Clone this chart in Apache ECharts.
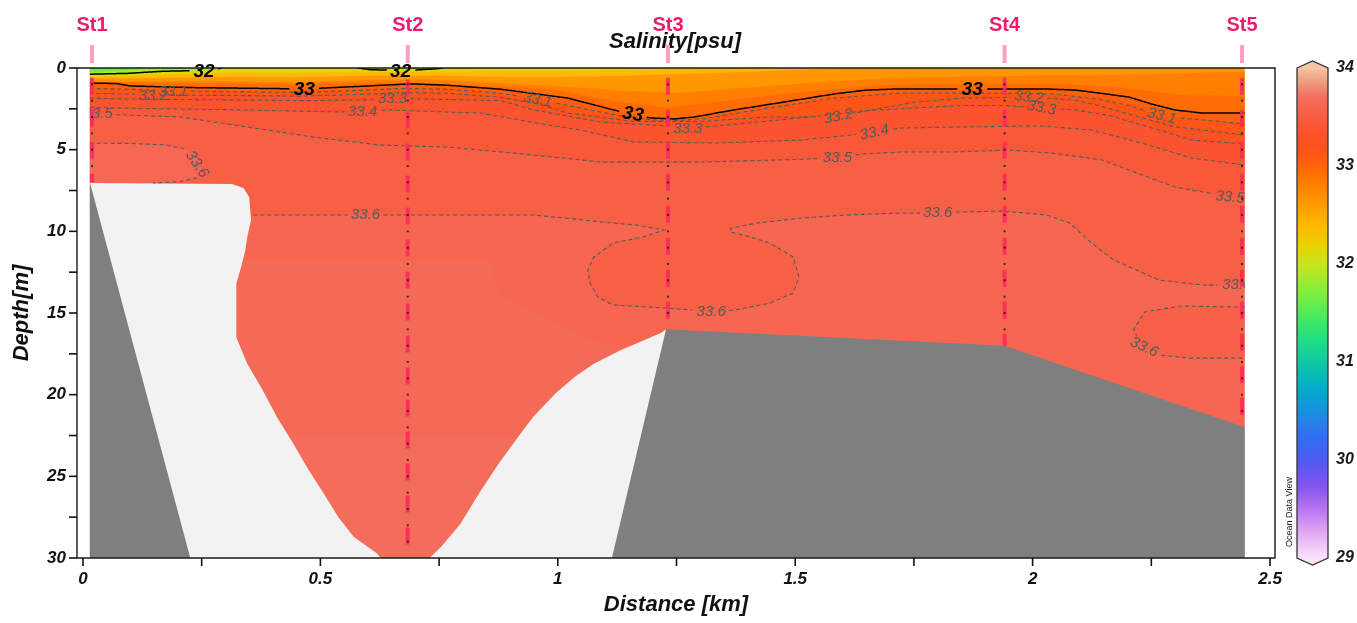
<!DOCTYPE html>
<html>
<head>
<meta charset="utf-8">
<script src="https://cdn.jsdelivr.net/npm/echarts@6/dist/echarts.min.js"></script>
<style>
html,body{margin:0;padding:0;background:#fff}
#chart{width:1357px;height:623px}
</style>
</head>
<body>
<div id="chart"></div>
<script>
// ---------- Section data: distance [km], depth [m] ----------
const stations      = ['St1', 'St2', 'St3', 'St4', 'St5'];
const stationKm     = [0.019, 0.684, 1.232, 1.941, 2.441];
const stationTop    = [0.6, 0.7, 0.6, 0.6, 0.6];
const stationBottom = [7.0, 30.0, 16.0, 17.0, 22.0];
const sampleDepths  = [1,2,3,4,5,6,7,8,9,10,11,12,13,14,15,16,17,18,19,20,21,22,23,24,25,26,27,28,29];

const distTicks   = [0, 0.25, 0.5, 0.75, 1, 1.25, 1.5, 1.75, 2, 2.25, 2.5];
const distLabels  = [0, 0.5, 1, 1.5, 2, 2.5];
const depthTicks  = [0, 2.5, 5, 7.5, 10, 12.5, 15, 17.5, 20, 22.5, 25, 27.5, 30];
const depthLabels = [0, 5, 10, 15, 20, 25, 30];
const salinityTicks = [29, 30, 31, 32, 33, 34];

// section extent along track
const xL = 0.014, xR = 2.447;

// bathymetry (sea floor) and the area without data
const bottomLeft  = [[0.014,6.95],[0.226,30],[0.014,30]];
const bottomRight = [[1.114,30],[1.228,16.0],[1.941,17.0],[2.447,22.0],[2.447,30]];
const noDataLeft  = [[0.014,7.04],[0.314,7.1],[0.338,7.35],[0.350,7.9],[0.354,9.3],[0.346,10.35],[0.342,11.15],
  [0.333,12.2],[0.323,13.2],[0.323,16.5],[0.346,18.1],[0.378,19.7],[0.409,21.4],[0.443,23.0],[0.475,24.6],
  [0.506,26.0],[0.538,27.5],[0.570,28.7],[0.618,29.7],[0.627,30],[0.014,30]];
const noDataRight = [[0.730,30],[0.755,29.3],[0.795,27.9],[0.835,26.0],[0.876,24.2],[0.916,22.6],[0.947,21.4],
  [0.996,19.9],[1.036,18.9],[1.076,18.1],[1.131,17.3],[1.179,16.7],[1.219,16.2],[1.228,16.0],[1.228,30]];

// isohalines (drawn)
const iso32      = [[0.014,0.38],[0.093,0.33],[0.169,0.2],[0.255,0.15],[0.28,0.08],[0.293,0.0]];
const iso32Patch = [[0.578,0.0],[0.605,0.1],[0.64,0.13],[0.669,0.13],[0.70,0.12],[0.74,0.06],[0.759,0.0]];
const iso33  = [[0.014,0.92],[0.07,0.95],[0.10,1.1],[0.232,1.2],[0.466,1.28],[0.60,1.1],[0.669,1.0],[0.70,0.98],
  [0.77,1.06],[0.88,1.3],[0.958,1.6],[1.021,1.84],[1.118,2.57],[1.158,2.85],[1.196,3.06],[1.245,3.12],[1.287,3.0],
  [1.371,2.57],[1.477,2.08],[1.582,1.59],[1.65,1.35],[1.709,1.29],[1.873,1.29],[2.034,1.29],[2.09,1.35],[2.139,1.53],
  [2.203,1.78],[2.25,2.2],[2.30,2.57],[2.357,2.76],[2.447,2.76]];
const iso331 = [[0.014,1.25],[0.10,1.3],[0.19,1.4],[0.30,1.45],[0.46,1.5],[0.60,1.35],[0.67,1.25],[0.77,1.3],
  [0.88,1.55],[0.958,1.9],[1.021,2.3],[1.127,2.9],[1.196,3.17],[1.245,3.22],[1.302,3.12],[1.443,2.45],[1.582,1.84],
  [1.724,1.53],[1.85,1.53],[1.95,1.55],[2.05,1.6],[2.146,1.95],[2.203,2.3],[2.272,2.92],[2.321,3.08],[2.447,3.43]];
const iso332 = [[0.014,1.55],[0.10,1.6],[0.148,1.65],[0.30,1.68],[0.46,1.72],[0.60,1.6],[0.67,1.5],[0.77,1.55],
  [0.88,1.8],[0.958,2.2],[1.021,2.76],[1.16,3.27],[1.30,3.27],[1.443,3.0],[1.50,3.02],[1.591,2.95],[1.654,2.6],
  [1.75,2.1],[1.85,1.84],[1.992,1.78],[2.089,1.96],[2.14,2.3],[2.194,2.75],[2.30,3.6],[2.447,4.1]];
const iso333 = [[0.014,1.85],[0.10,1.9],[0.30,1.95],[0.46,2.0],[0.60,1.95],[0.652,1.86],[0.72,1.9],[0.88,2.0],
  [0.949,2.57],[1.091,3.31],[1.232,3.55],[1.274,3.7],[1.371,3.45],[1.513,3.05],[1.654,2.6],[1.85,2.3],[1.941,2.3],
  [2.019,2.45],[2.089,2.57],[2.16,2.9],[2.23,3.49],[2.335,4.41],[2.447,4.65]];
const iso334 = [[0.014,2.4],[0.063,2.45],[0.30,2.55],[0.542,2.69],[0.589,2.65],[0.641,2.57],[0.838,2.76],[0.979,3.49],
  [1.049,3.8],[1.16,4.53],[1.338,4.59],[1.513,4.41],[1.618,4.10],[1.667,3.92],[1.724,3.67],[1.85,3.61],[2.019,3.55],
  [2.124,3.80],[2.23,4.59],[2.335,5.51],[2.447,5.94]];
const iso335 = [[0.014,2.82],[0.032,2.82],[0.205,3.0],[0.346,3.61],[0.485,4.23],[0.627,4.72],[0.768,4.84],[0.907,5.21],
  [1.049,5.63],[1.091,5.76],[1.302,5.76],[1.50,5.6],[1.589,5.5],[1.639,5.27],[1.724,5.14],[1.835,5.14],[1.949,5.02],
  [2.04,5.21],[2.146,5.63],[2.203,6.25],[2.30,7.29],[2.371,7.65],[2.416,7.92],[2.447,8.0]];
const iso336 = [[0.359,9.0],[0.47,9.0],[0.595,9.0],[0.75,9.0],[0.947,9.0],[1.036,9.25],[1.10,9.45],[1.165,9.61],
  [1.224,9.92],[1.179,10.35],[1.116,10.72],[1.076,11.57],[1.063,12.37],[1.068,13.17],[1.084,14.02],[1.116,14.51],
  [1.196,14.64],[1.259,14.76],[1.323,14.94],[1.373,14.82],[1.447,14.39],[1.496,13.78],[1.508,12.80],[1.496,11.57],
  [1.447,10.72],[1.40,10.3],[1.363,10.04],[1.365,9.8],[1.42,9.49],[1.513,9.19],[1.608,9.0],[1.70,8.9],[1.80,8.88],
  [1.842,8.82],[1.937,8.76],[2.03,9.0],[2.078,9.49],[2.124,10.72],[2.171,11.76],[2.266,12.98],[2.359,13.29],
  [2.43,13.3],[2.447,13.3]];
const iso336Left   = [[0.014,4.6],[0.10,4.62],[0.17,4.7],[0.215,4.95],[0.24,5.5],[0.25,6.2],[0.243,6.7],[0.205,6.95],[0.148,7.04]];
const iso336Pocket = [[2.447,14.64],[2.312,14.57],[2.236,14.94],[2.213,16.0],[2.222,16.6],[2.235,17.1],[2.274,17.6],[2.33,17.76],[2.447,17.76]];

// shading levels between isohalines (filled only)
const iso3175 = [[0.014,0.22],[0.06,0.18],[0.10,0.1],[0.13,0.0]];
const iso3225 = [[0.014,0.5],[0.10,0.45],[0.20,0.35],[0.30,0.28],[0.45,0.28],[0.55,0.22],[0.70,0.22],[0.85,0.18],[1.0,0.15],[1.15,0.1],[1.3,0.0]];
const iso325  = [[0.014,0.62],[0.15,0.6],[0.30,0.52],[0.45,0.55],[0.60,0.45],[0.75,0.45],[0.90,0.55],[1.0,0.55],[1.15,0.45],[1.3,0.3],[1.45,0.15],[1.6,0.0]];
const iso3275 = [[0.014,0.78],[0.15,0.8],[0.30,0.8],[0.45,0.85],[0.60,0.72],[0.72,0.68],[0.88,0.9],[1.0,1.1],[1.15,1.4],[1.25,1.5],[1.4,1.2],[1.55,0.85],[1.7,0.6],[1.85,0.5],[2.0,0.45],[2.15,0.4],[2.3,0.3],[2.447,0.2]];
const iso3288 = [[0.014,0.86],[0.3,0.95],[0.46,1.0],[0.67,0.85],[0.88,1.1],[1.0,1.35],[1.12,2.0],[1.23,2.4],[1.35,2.0],[1.5,1.5],[1.7,1.0],[1.9,0.95],[2.05,0.95],[2.2,1.2],[2.3,1.6],[2.447,1.7]];
const deepShade1 = [[0.323,11.8],[0.859,11.8],[0.876,14.0],[0.956,15.0],[1.076,16.8],[1.2,17.3],[1.2,30],[0.30,30]];
const deepShade2 = [[0.40,22.6],[0.95,22.6],[0.95,30],[0.40,30]];

// contour labels: text, distance, depth
const contourLabels = [
  ['32',0.255,0.24],['32',0.669,0.26],['33',0.466,1.32],['33',1.158,2.86],['33',1.873,1.33],
  ['33.2',0.148,1.68],['33.1',0.190,1.45],['33.5',0.032,2.82],['33.3',0.652,1.88],['33.4',0.589,2.66],
  ['33.1',0.958,1.95],['33.3',1.274,3.72],['33.2',1.591,2.98],['33.4',1.667,3.95],['33.5',1.589,5.48],
  ['33.2',1.992,1.80],['33.3',2.019,2.45],['33.1',2.272,2.95],['33.5',2.416,7.92],
  ['33.6',0.240,5.90],['33.6',0.595,9.0],['33.6',1.323,14.94],['33.6',1.800,8.88],['33.6',2.430,13.3],['33.6',2.235,17.1]
];
// colour scale stops: salinity, colour
const scaleStops = [
  [29.0,'#fce2fc'],[29.25,'#e4aaf4'],[29.5,'#b674f2'],[29.75,'#8052f0'],[30.0,'#4c5cf2'],[30.25,'#3070f0'],
  [30.5,'#1890e0'],[30.75,'#02aec6'],[31.0,'#10c8a4'],[31.25,'#24e080'],[31.5,'#50ec58'],[31.75,'#8cee38'],
  [32.0,'#c8e41c'],[32.2,'#ecd000'],[32.4,'#ffb800'],[32.6,'#ff9c00'],[32.8,'#ff8200'],[32.9,'#ff7200'],
  [33.0,'#ff6408'],[33.1,'#ff5812'],[33.2,'#fe521c'],[33.3,'#fc5228'],[33.4,'#fa5533'],[33.5,'#f95c3f'],
  [33.6,'#f7654f'],[33.7,'#f46e5c'],[33.8,'#f08a74'],[33.9,'#f0a888'],[34.0,'#f4c4a4']
];

// ---------- helpers ----------
function hex2rgb(h){ return [parseInt(h.slice(1,3),16),parseInt(h.slice(3,5),16),parseInt(h.slice(5,7),16)]; }
function salColor(v){
  if (v <= scaleStops[0][0]) return scaleStops[0][1];
  for (let i = 1; i < scaleStops.length; i++) {
    if (v <= scaleStops[i][0]) {
      const [v0,c0] = scaleStops[i-1], [v1,c1] = scaleStops[i];
      const t = (v - v0) / (v1 - v0), a = hex2rgb(c0), b = hex2rgb(c1);
      return 'rgb(' + a.map((x,k)=>Math.round(x + (b[k]-x)*t)).join(',') + ')';
    }
  }
  return scaleStops[scaleStops.length-1][1];
}
function above(line){ return [[line[0][0],0], ...line, [line[line.length-1][0],0]]; }
function rect(x0,x1,z0,z1){ return [[x0,z0],[x1,z0],[x1,z1],[x0,z1]]; }

// filled bands, painted from the saltiest upwards
const fieldLayers = [
  {pts: rect(xL,xR,0,30), s: 33.615},
  {pts: deepShade1, s: 33.66},
  {pts: deepShade2, s: 33.69},
  {pts: [[xL,0],[xL,9.0], ...iso336, [xR,0]], s: 33.54},
  {pts: iso336Pocket, s: 33.55},
  {pts: [...iso336Left, [xL,7.04]], s: 33.63},
  {pts: above(iso335), s: 33.45},
  {pts: above(iso334), s: 33.35},
  {pts: above(iso333), s: 33.25},
  {pts: above(iso332), s: 33.15},
  {pts: above(iso331), s: 33.05},
  {pts: above(iso33),  s: 32.94},
  {pts: above(iso3288), s: 32.81},
  {pts: above(iso3275), s: 32.63},
  {pts: above(iso325),  s: 32.38},
  {pts: above(iso3225), s: 32.13},
  {pts: above(iso32),   s: 31.85},
  {pts: iso32Patch,     s: 31.95},
  {pts: above(iso3175), s: 31.6}
];
const maskLayers = [
  {pts: noDataLeft,  fill: '#f2f2f2'},
  {pts: noDataRight, fill: '#f2f2f2'},
  {pts: bottomLeft,  fill: '#7f7f7f'},
  {pts: bottomRight, fill: '#7f7f7f'}
];
const contourLines = [
  {pts: iso32, level: 32}, {pts: iso32Patch, level: 32}, {pts: iso33, level: 33},
  {pts: iso331, level: 33.1}, {pts: iso332, level: 33.2}, {pts: iso333, level: 33.3},
  {pts: iso334, level: 33.4}, {pts: iso335, level: 33.5}, {pts: iso336, level: 33.6},
  {pts: iso336Left, level: 33.6}, {pts: iso336Pocket, level: 33.6}
];
// label tilt in degrees (anticlockwise positive), same order as contourLabels
const labelTilt = [0,0,0,-10,0, 0,0,0,0,0, -12,0,12,12,0, -5,-10,-15,-5, -55,0,0,0,0,-25];

const FONT_FAMILY = '"Liberation Sans", Arial, sans-serif';
const solidFont = 'italic bold 19px ' + FONT_FAMILY;
const dashFont  = 'italic 15px ' + FONT_FAMILY;
const DASH_COLOR = '#4f5a5f';

const measureCtx = document.createElement('canvas').getContext('2d');
function textW(t, f){ measureCtx.font = f; return measureCtx.measureText(t).width; }
function isSolid(level){ return level === 32 || level === 33; }

function labelBoxes(api, level){
  const out = [];
  contourLabels.forEach((lb, i) => {
    if (parseFloat(lb[0]) !== level) return;
    const c = api.coord([lb[1], lb[2]]);
    const f = isSolid(level) ? solidFont : dashFont;
    out.push({cx:c[0], cy:c[1], hw:textW(lb[0], f)/2 + 3, hh: isSolid(level) ? 9 : 7, r: labelTilt[i]*Math.PI/180});
  });
  return out;
}
function inBox(b, x, y){
  const dx = x - b.cx, dy = y - b.cy;
  const u = dx*Math.cos(b.r) - dy*Math.sin(b.r);
  const v = dx*Math.sin(b.r) + dy*Math.cos(b.r);
  return Math.abs(u) <= b.hw && Math.abs(v) <= b.hh;
}
function splitRuns(px, boxes){
  const runs = []; let run = [];
  for (let i = 0; i < px.length - 1; i++) {
    const [x1,y1] = px[i], [x2,y2] = px[i+1];
    const n = Math.max(1, Math.ceil(Math.hypot(x2-x1, y2-y1) / 1.5));
    for (let k = (i === 0 ? 0 : 1); k <= n; k++) {
      const t = k / n, x = x1 + (x2-x1)*t, y = y1 + (y2-y1)*t;
      if (boxes.some(b => inBox(b, x, y))) { if (run.length > 1) runs.push(run); run = []; }
      else run.push([x, y]);
    }
  }
  if (run.length > 1) runs.push(run);
  return runs;
}

// station sample dots
const sampleDots = [];
stationKm.forEach((km, i) => {
  sampleDepths.forEach(d => { if (d < stationBottom[i]) sampleDots.push([km, d]); });
});

const axisFont = {fontFamily: FONT_FAMILY, fontStyle: 'italic', fontWeight: 'bold'};
const TICK_LEN = 8;

const chart = echarts.init(document.getElementById('chart'));
chart.setOption({
  animation: false,
  backgroundColor: '#ffffff',
  grid: [
    {left: 77, top: 68, width: 1198, height: 490, show: false},
    {left: 1297, top: 68, width: 31, height: 490, show: false}
  ],
  xAxis: [
    {
      gridIndex: 0, type: 'value', min: -0.0126, max: 2.5105,
      name: 'Distance [km]', nameLocation: 'middle', nameGap: 36,
      nameTextStyle: Object.assign({fontSize: 22, color: '#111'}, axisFont),
      axisLine: {show: false},
      axisTick: {show: false},
      axisLabel: Object.assign({customValues: distLabels, margin: 13, fontSize: 17, color: '#111',
        formatter: v => String(v)}, axisFont),
      splitLine: {show: false}
    },
    {gridIndex: 1, type: 'value', min: 0, max: 1, show: false}
  ],
  yAxis: [
    {
      gridIndex: 0, type: 'value', inverse: true, min: 0, max: 30,
      name: 'Depth[m]', nameLocation: 'middle', nameGap: 44,
      nameTextStyle: Object.assign({fontSize: 22, color: '#111'}, axisFont),
      axisLine: {show: false},
      axisTick: {show: false},
      axisLabel: Object.assign({customValues: depthLabels, margin: 11, fontSize: 17, color: '#111'}, axisFont),
      splitLine: {show: false}
    },
    {
      gridIndex: 1, type: 'value', min: 29, max: 34, position: 'right',
      axisLine: {show: false}, axisTick: {show: false}, splitLine: {show: false},
      axisLabel: Object.assign({customValues: salinityTicks, margin: 8, fontSize: 16, color: '#1a1a1a'}, axisFont)
    }
  ],
  graphic: [
    {type: 'text', x: 675, y: 42, z: 5, style: {text: 'Salinity[psu]', font: 'italic bold 22px ' + FONT_FAMILY,
      fill: '#111', align: 'center', verticalAlign: 'middle'}},
    {type: 'text', x: 1290, y: 512, rotation: Math.PI/2, z: 5, style: {text: 'Ocean Data View',
      font: '9px ' + FONT_FAMILY, fill: '#222', align: 'center', verticalAlign: 'middle'}}
  ],
  series: [
    // colour field
    {
      type: 'custom', xAxisIndex: 0, yAxisIndex: 0, clip: true, silent: true, z: 1,
      data: fieldLayers.map((l, i) => [1, 10, i]),
      renderItem: (params, api) => {
        const l = fieldLayers[params.dataIndex];
        return {type: 'polygon', shape: {points: l.pts.map(p => api.coord(p))},
          style: {fill: salColor(l.s), stroke: salColor(l.s), lineWidth: 0.6}};
      }
    },
    // no-data area and sea floor
    {
      type: 'custom', xAxisIndex: 0, yAxisIndex: 0, clip: true, silent: true, z: 2,
      data: maskLayers.map((l, i) => [1, 10, i]),
      renderItem: (params, api) => {
        const l = maskLayers[params.dataIndex];
        return {type: 'polygon', shape: {points: l.pts.map(p => api.coord(p))}, style: {fill: l.fill}};
      }
    },
    // isohalines
    {
      type: 'custom', xAxisIndex: 0, yAxisIndex: 0, clip: true, silent: true, z: 3,
      data: contourLines.map((c, i) => [1, 10, i]),
      renderItem: (params, api) => {
        const c = contourLines[params.dataIndex];
        const px = c.pts.map(p => api.coord(p));
        const runs = splitRuns(px, labelBoxes(api, c.level));
        const solid = isSolid(c.level);
        return {type: 'group', children: runs.map(r => ({
          type: 'polyline', shape: {points: r},
          style: solid ? {stroke: '#000', lineWidth: 1.5, fill: null}
                       : {stroke: DASH_COLOR, lineWidth: 1.1, lineDash: [4, 3], fill: null}
        }))};
      }
    },
    // isohaline labels
    {
      type: 'custom', xAxisIndex: 0, yAxisIndex: 0, clip: false, silent: true, z: 4,
      data: contourLabels.map(l => [l[1], l[2]]),
      renderItem: (params, api) => {
        const lb = contourLabels[params.dataIndex];
        const c = api.coord([lb[1], lb[2]]);
        const solid = isSolid(parseFloat(lb[0]));
        return {type: 'text', x: c[0], y: c[1], rotation: labelTilt[params.dataIndex]*Math.PI/180,
          style: {text: lb[0], font: solid ? solidFont : dashFont, fill: solid ? '#000' : DASH_COLOR,
            align: 'center', verticalAlign: 'middle'}};
      }
    },
    // blank strips beside the section
    {
      type: 'custom', xAxisIndex: 0, yAxisIndex: 0, clip: true, silent: true, z: 5,
      data: [[1, 10]],
      renderItem: (params, api) => {
        const cs = params.coordSys;
        const a = api.coord([xL, 0]), b = api.coord([xR, 0]);
        return {type: 'group', children: [
          {type: 'rect', shape: {x: cs.x, y: cs.y, width: a[0] - cs.x, height: cs.height}, style: {fill: '#fff'}},
          {type: 'rect', shape: {x: b[0], y: cs.y, width: cs.x + cs.width - b[0], height: cs.height}, style: {fill: '#fff'}}
        ]};
      }
    },
    // stations
    {
      type: 'custom', xAxisIndex: 0, yAxisIndex: 0, clip: false, silent: true, z: 6,
      data: stationKm.map((k, i) => [k, stationBottom[i]]),
      renderItem: (params, api) => {
        const i = params.dataIndex;
        const t = api.coord([stationKm[i], stationTop[i]]);
        const b = api.coord([stationKm[i], stationBottom[i]]);
        const top = params.coordSys.y;
        return {type: 'group', children: [
          {type: 'line', shape: {x1: t[0], y1: t[1], x2: b[0], y2: b[1]},
            style: {stroke: '#ff2a5c', lineWidth: 4, lineDash: [17, 15], opacity: 0.9}},
          {type: 'line', shape: {x1: t[0], y1: top - 23, x2: t[0], y2: top - 5},
            style: {stroke: '#ff9fc7', lineWidth: 4}},
          {type: 'text', x: t[0], y: top - 43,
            style: {text: stations[i], font: 'bold 20px ' + FONT_FAMILY, fill: '#ee1a6c', align: 'center', verticalAlign: 'middle'}}
        ]};
      }
    },
    // sample depths
    {
      type: 'scatter', xAxisIndex: 0, yAxisIndex: 0, z: 7, silent: true,
      symbol: 'rect', symbolSize: 2, itemStyle: {color: '#1a1a1a'},
      data: sampleDots
    },
    // frame and outward tick marks
    {
      type: 'custom', xAxisIndex: 0, yAxisIndex: 0, clip: false, silent: true, z: 8,
      data: [[1, 10]],
      renderItem: (params, api) => {
        const cs = params.coordSys;
        const left = cs.x, bottom = cs.y + cs.height;
        const kids = [{type: 'rect', shape: {x: cs.x, y: cs.y, width: cs.width, height: cs.height},
          style: {fill: null, stroke: '#1a1a1a', lineWidth: 1.4}}];
        distTicks.forEach(v => {
          const x = api.coord([v, 0])[0];
          kids.push({type: 'line', shape: {x1: x, y1: bottom, x2: x, y2: bottom + TICK_LEN}, style: {stroke: '#111', lineWidth: 1.6}});
        });
        depthTicks.forEach(v => {
          const y = api.coord([0, v])[1];
          kids.push({type: 'line', shape: {x1: left - TICK_LEN, y1: y, x2: left, y2: y}, style: {stroke: '#111', lineWidth: 1.6}});
        });
        return {type: 'group', children: kids};
      }
    },
    // colour scale
    {
      type: 'custom', xAxisIndex: 1, yAxisIndex: 1, clip: false, silent: true, z: 3,
      data: [[0.5, 31.5]],
      renderItem: (params, api) => {
        const tl = api.coord([0, 34]), br = api.coord([1, 29]);
        const x0 = tl[0], x1 = br[0], y0 = tl[1], y1 = br[1], xm = (x0 + x1) / 2, cap = 7;
        const grad = new echarts.graphic.LinearGradient(0, 0, 0, 1,
          scaleStops.slice().reverse().map(([v, c]) => ({offset: (34 - v) / 5, color: c})));
        return {type: 'group', children: [
          {type: 'rect', shape: {x: x0, y: y0, width: x1 - x0, height: y1 - y0}, style: {fill: grad}},
          {type: 'polygon', shape: {points: [[x0, y0 + 0.5], [xm, y0 - cap], [x1, y0 + 0.5]]}, style: {fill: salColor(34)}},
          {type: 'polygon', shape: {points: [[x0, y1 - 0.5], [xm, y1 + cap], [x1, y1 - 0.5]]}, style: {fill: salColor(29)}},
          {type: 'polygon', shape: {points: [[x0, y0], [xm, y0 - cap], [x1, y0], [x1, y1], [xm, y1 + cap], [x0, y1]]},
            style: {fill: null, stroke: '#333', lineWidth: 1.3}}
        ]};
      }
    }
  ]
});
</script>
</body>
</html>
